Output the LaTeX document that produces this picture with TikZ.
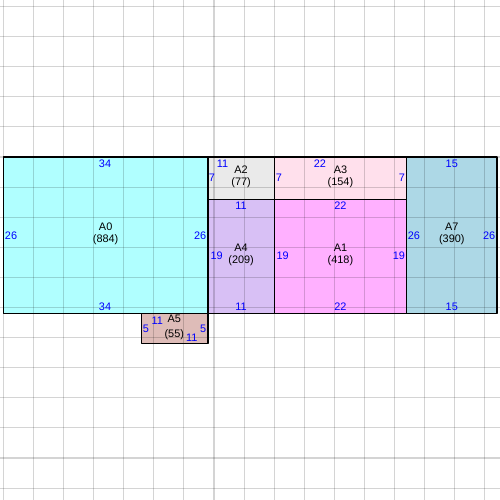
\documentclass[tikz,border=0pt]{standalone}
\usepackage{fontspec}
\setmainfont{Liberation Sans}
\definecolor{roomcyan}{RGB}{176,255,255}
\definecolor{roomgray}{RGB}{234,234,234}
\definecolor{roompink}{RGB}{255,224,236}
\definecolor{roomblue}{RGB}{173,216,230}
\definecolor{roomlilac}{RGB}{216,192,245}
\definecolor{roommagenta}{RGB}{255,176,255}
\definecolor{roomrose}{RGB}{222,188,184}
\definecolor{sideblue}{RGB}{0,0,255}
\begin{document}
\begin{tikzpicture}[x=0.2cm, y=-0.2cm, line join=round, font=\fontsize{10.3}{11.4}\selectfont,
	gridline/.style={black, opacity=0.17, line width=1pt},
	room/.style={draw=black, line width=1.1pt},
	side/.style={text=sideblue, inner sep=0pt},
	roomname/.style={align=center, inner sep=0pt}]
	\useasboundingbox (-0.55,-26.08) rectangle (82.51,56.98);
	% fills
	\foreach \ax/\ay/\bx/\by/\col in {0/0/34/26/roomcyan, 34/0/45/7/roomgray, 45/0/67/7/roompink,
		67/0/82/26/roomblue, 34/7/45/26/roomlilac, 45/7/67/26/roommagenta, 23/26/34/31/roomrose}
		\fill[\col] (\ax,\ay) rectangle (\bx,\by);
	% grid
	\foreach \gx in {0,5,...,80}
		\draw[gridline] (\gx,-26.08) -- (\gx,56.98);
	\foreach \gy in {-25,-20,...,55}
		\draw[gridline] (-0.55,\gy) -- (82.51,\gy);
	% borders
	\foreach \ax/\ay/\bx/\by in {0/0/34/26, 34/0/45/7, 45/0/67/7, 67/0/82/26, 34/7/45/26, 45/7/67/26, 23/26/34/31}
		\draw[room] (\ax,\ay) rectangle (\bx,\by);
	% names
	\node[roomname] (a0) at (17,12.8) {A0\\(884)};
	\node[roomname] (a2) at (39.5,3.32) {A2\\(77)};
	\node[roomname] (a3) at (56,3.32) {A3\\(154)};
	\node[roomname] (a7) at (74.5,12.8) {A7\\(390)};
	\node[roomname] (a4) at (39.5,16.3) {A4\\(209)};
	\node[roomname] (a1) at (56,16.3) {A1\\(418)};
	\node[roomname] (a5) at (28.4,28.35) {A5\\[2.6pt](55)};
	% side lengths
	\node[side] (a0t) at (16.9,1.16) {34};
	\node[side] (a0b) at (16.9,24.9) {34};
	\node[side] (a0l) at (1.28,13.07) {26};
	\node[side] (a0r) at (32.7,13.07) {26};
	\node[side] (a2t) at (36.4,1.16) {11};
	\node[side] (a2l) at (34.67,3.5) {7};
	\node[side] (a3t) at (52.6,1.16) {22};
	\node[side] (a3l) at (45.8,3.5) {7};
	\node[side] (a3r) at (66.2,3.5) {7};
	\node[side] (a7t) at (74.5,1.16) {15};
	\node[side] (a7b) at (74.5,24.9) {15};
	\node[side] (a7l) at (68.2,13) {26};
	\node[side] (a7r) at (80.7,13) {26};
	\node[side] (a4t) at (39.5,8.14) {11};
	\node[side] (a4b) at (39.5,24.9) {11};
	\node[side] (a4l) at (35.45,16.45) {19};
	\node[side] (a1t) at (56,8.14) {22};
	\node[side] (a1b) at (56,24.9) {22};
	\node[side] (a1l) at (46.4,16.45) {19};
	\node[side] (a1r) at (65.7,16.45) {19};
	\node[side] (a5t) at (25.58,27.13) {11};
	\node[side] (a5b) at (31.3,29.95) {11};
	\node[side] (a5l) at (23.7,28.57) {5};
	\node[side] (a5r) at (33.2,28.57) {5};
\end{tikzpicture}
\end{document}
